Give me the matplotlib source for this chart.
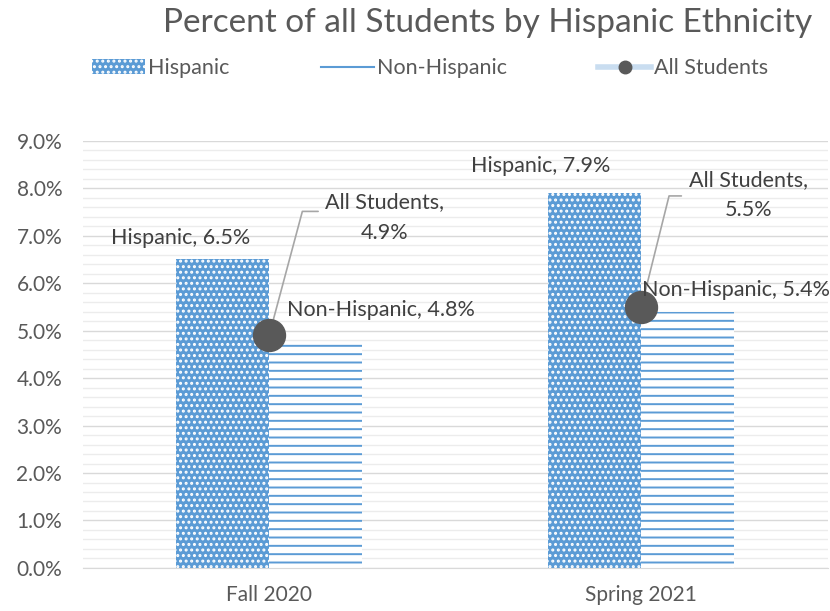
"""Percent of all students by Hispanic ethnicity, clustered bar chart."""

import matplotlib
import matplotlib.pyplot as plt
import numpy as np
from matplotlib.lines import Line2D
from matplotlib.patches import Patch
from matplotlib.ticker import FuncFormatter, MultipleLocator

matplotlib.use("Agg")

# Data (percent)
terms = ["Fall 2020", "Spring 2021"]
hispanic = [6.5, 7.9]
non_hispanic = [4.75, 5.4]
all_students = [4.9, 5.5]

BLUE = "#5B9BD5"
DOT = "#595959"
TEXT = "#404040"
TICK = "#595959"

plt.rcParams["font.family"] = ["Lato", "DejaVu Sans"]
plt.rcParams["hatch.linewidth"] = 1.4

fig = plt.figure(figsize=(8.3, 6.11), dpi=100)
ax = fig.add_axes([0.1, 0.0705, 0.897, 0.699])

x = np.arange(len(terms))
width = 0.25

# Bars
ax.bar(x - width / 2, hispanic, width, color=BLUE, edgecolor="white",
       linewidth=0, hatch="...", zorder=2)
ax.bar(x + width / 2, non_hispanic, width, color="white", edgecolor=BLUE,
       linewidth=0, hatch="--", zorder=2)

# All students markers
ax.plot(x, all_students, linestyle="none", marker="o", markersize=23,
        color=DOT, zorder=4)

# Data labels (offsets in pixels)
hisp_offsets = [(-42, 21), (-54, 27)]
nonhisp_offsets = [(65, 33), (48, 22)]
for i, v in enumerate(hispanic):
    ax.annotate(f"Hispanic, {v:.1f}%", (x[i] - width / 2, v),
                xytext=hisp_offsets[i], textcoords="offset pixels",
                ha="center", va="center", fontsize=15.5, color=TEXT, zorder=5)
for i, v in enumerate(non_hispanic):
    ax.annotate(f"Non-Hispanic, {v:.1f}%", (x[i] + width / 2, v),
                xytext=nonhisp_offsets[i], textcoords="offset pixels",
                ha="center", va="center", fontsize=15.5, color=TEXT, zorder=5)

# All students labels with leader lines
leader_ends = [(49, 124), (40, 111)]
leader_angles = [75, 76]
all_offsets = [(115, 118), (107, 112)]
for i, v in enumerate(all_students):
    ax.annotate("", (x[i], v), xytext=leader_ends[i],
                textcoords="offset pixels",
                arrowprops=dict(arrowstyle="-", color="#a6a6a6", lw=1.2,
                                shrinkA=0, shrinkB=0,
                                connectionstyle=f"angle,angleA=0,"
                                f"angleB={leader_angles[i]},rad=0"),
                zorder=3)
    ax.annotate(f"All Students,\n{v:.1f}%", (x[i], v),
                xytext=all_offsets[i], textcoords="offset pixels",
                ha="center", va="center", fontsize=15.5, color=TEXT,
                linespacing=1.65, zorder=5)

# Axes formatting
ax.set_xlim(-0.5, 1.5)
ax.set_ylim(0, 9)
ax.yaxis.set_major_locator(MultipleLocator(1))
ax.yaxis.set_minor_locator(MultipleLocator(0.2))
ax.yaxis.set_major_formatter(FuncFormatter(lambda v, p: f"{v:.1f}%"))
ax.set_xticks(x)
ax.set_xticklabels(terms)
ax.tick_params(axis="both", length=0, labelsize=15, labelcolor=TICK)
ax.tick_params(axis="x", pad=12)
ax.tick_params(axis="y", which="both", length=0, pad=15)
ax.grid(axis="y", which="major", color="#d9d9d9", linewidth=1, zorder=0)
ax.grid(axis="y", which="minor", color="#ececec", linewidth=1, zorder=0)
ax.set_axisbelow(True)
for side in ["top", "right", "left"]:
    ax.spines[side].set_visible(False)
ax.spines["bottom"].set_color("#d9d9d9")

# Title
fig.text(0.587, 0.963, "Percent of all Students by Hispanic Ethnicity",
         ha="center", va="center", fontsize=24, color=TICK)

# Legend
handles = [
    Patch(facecolor=BLUE, edgecolor="white", hatch="...", linewidth=0),
    Line2D([0], [0], color=BLUE, linewidth=1.5),
    Line2D([0], [0], color="#c9ddf0", linewidth=4, marker="o",
           markersize=9, markerfacecolor=DOT, markeredgecolor=DOT),
]
fig.legend(handles, ["Hispanic", "Non-Hispanic", "All Students"],
           loc="center left", bbox_to_anchor=(0.111, 0.888), ncol=3,
           frameon=False, fontsize=15.5, handlelength=2.45,
           handletextpad=0.15, columnspacing=4.25, labelcolor=TICK,
           borderpad=0, borderaxespad=0)

plt.savefig("out.png", dpi=100)
plt.close()
